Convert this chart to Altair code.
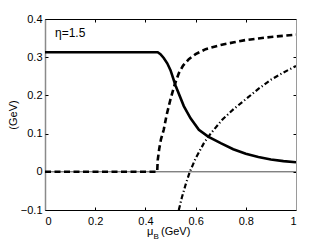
import altair as alt
import pandas as pd

# ---- data ----
x_ticks = [0, 0.2, 0.4, 0.6, 0.8, 1.0]
y_ticks = [-0.1, 0, 0.1, 0.2, 0.3, 0.4]

solid_mu = [0.0, 0.449, 0.460, 0.473, 0.487, 0.500, 0.520, 0.553, 0.580, 0.613,
            0.650, 0.700, 0.750, 0.800, 0.850, 0.900, 0.950, 1.000]
solid_val = [0.313, 0.313, 0.308, 0.298, 0.284, 0.266, 0.226, 0.172, 0.140, 0.110,
             0.092, 0.075, 0.059, 0.047, 0.039, 0.032, 0.028, 0.025]

dashed_mu = [0.0, 0.447, 0.449, 0.455, 0.462, 0.473, 0.485, 0.500, 0.515, 0.533,
             0.550, 0.573, 0.600, 0.640, 0.700, 0.753, 0.800, 0.850, 0.900, 0.950, 1.000]
dashed_val = [0.0, 0.0, 0.030, 0.060, 0.085, 0.110, 0.150, 0.190, 0.225, 0.258,
              0.278, 0.295, 0.308, 0.321, 0.332, 0.339, 0.345, 0.349, 0.353, 0.356, 0.359]

dashdot_mu = [0.533, 0.545, 0.560, 0.577, 0.600, 0.633, 0.660, 0.707, 0.753,
              0.800, 0.850, 0.900, 0.950, 1.000]
dashdot_val = [-0.100, -0.068, -0.034, 0.0, 0.035, 0.075, 0.100, 0.137, 0.165,
               0.190, 0.217, 0.241, 0.260, 0.277]

zero_line = [0.0]

eta_label = "η=1.5"
y_title = "(GeV)"
x_title_main = "μ"
x_title_sub = "B"
x_title_unit = "(GeV)"

FONT = "Liberation Sans"

xs = alt.Scale(domain=[0, 1], nice=False, zero=False)
ys = alt.Scale(domain=[-0.1, 0.4], nice=False, zero=False)


def frame(mu, val):
    return pd.DataFrame({"mu": mu, "val": val})


solid_df = frame(solid_mu, solid_val)
dashed_df = frame(dashed_mu, dashed_val)
dashdot_df = frame(dashdot_mu, dashdot_val)

main_x_axis = alt.Axis(orient="bottom", values=x_ticks, format=".1~f", ticks=False,
                       domain=True, domainColor="black", domainWidth=1,
                       labelFont=FONT, labelFontSize=11, labelColor="black",
                       labelPadding=5, grid=False, title=None)
main_y_axis = alt.Axis(orient="left", values=y_ticks, format=".1~f", ticks=False,
                       domain=True, domainColor="#8a8a8a", domainWidth=1.5,
                       labelFont=FONT, labelFontSize=11, labelColor="black",
                       labelPadding=3, grid=False, title=None)


def tick_axis(orient, values):
    return alt.Axis(orient=orient, values=values, offset=-3, tickSize=3, ticks=True,
                    tickColor="black", tickWidth=1, labels=False, domain=False,
                    grid=False, title=None)


def domain_axis(orient, color):
    return alt.Axis(orient=orient, ticks=False, labels=False, domain=True,
                    domainColor=color, domainWidth=1, grid=False, title=None)


zero_rule = alt.Chart(pd.DataFrame({"val": zero_line})).mark_rule(
    color="black", strokeWidth=0.7
).encode(y=alt.Y("val:Q", scale=ys, axis=None))

solid = alt.Chart(solid_df).mark_line(color="black", strokeWidth=2.6, clip=True).encode(
    x=alt.X("mu:Q", scale=xs, axis=main_x_axis),
    y=alt.Y("val:Q", scale=ys, axis=main_y_axis),
)

dashed = alt.Chart(dashed_df).mark_line(
    color="black", strokeWidth=2.6, strokeDash=[6, 3.5], clip=True
).encode(
    x=alt.X("mu:Q", scale=xs, axis=None),
    y=alt.Y("val:Q", scale=ys, axis=None),
)

dashdot = alt.Chart(dashdot_df).mark_line(
    color="black", strokeWidth=2.2, strokeDash=[5, 2.5, 1.2, 2.5], clip=True
).encode(
    x=alt.X("mu:Q", scale=xs, axis=None),
    y=alt.Y("val:Q", scale=ys, axis=None),
)

ticks_bl = alt.Chart(solid_df).mark_point(opacity=0).encode(
    x=alt.X("mu:Q", scale=xs, axis=tick_axis("bottom", x_ticks)),
    y=alt.Y("val:Q", scale=ys, axis=tick_axis("left", y_ticks)),
)
ticks_tr = alt.Chart(solid_df).mark_point(opacity=0).encode(
    x=alt.X("mu:Q", scale=xs, axis=tick_axis("top", x_ticks)),
    y=alt.Y("val:Q", scale=ys, axis=tick_axis("right", y_ticks)),
)
frame_tr = alt.Chart(solid_df).mark_point(opacity=0).encode(
    x=alt.X("mu:Q", scale=xs, axis=domain_axis("top", "black")),
    y=alt.Y("val:Q", scale=ys, axis=domain_axis("right", "#9a9a9a")),
)


def label(text, x, y, size=11, angle=0, align="left", baseline="alphabetic"):
    return alt.Chart(pd.DataFrame({"t": [text]})).mark_text(
        font=FONT, fontSize=size, color="black", angle=angle, align=align,
        baseline=baseline
    ).encode(x=alt.value(x), y=alt.value(y), text="t:N")


eta = label(eta_label, 10, 18, size=12)
ytitle = label(y_title, -31, 96, angle=270, align="center", baseline="middle")
xt1 = label(x_title_main, 102, 216)
xt2 = label(x_title_sub, 108.5, 220, size=8)
xt3 = label(x_title_unit, 116, 216)

chart = alt.layer(
    zero_rule, solid, dashed, dashdot, ticks_bl, ticks_tr, frame_tr,
    eta, ytitle, xt1, xt2, xt3
).resolve_axis(
    x="independent", y="independent"
).properties(
    width=251, height=191,
    autosize=alt.AutoSizeParams(type="none"),
    padding={"left": 37, "top": 11, "right": 20, "bottom": 36},
).configure_view(stroke=None)

chart.save("out.html", embed_options={"renderer": "svg", "actions": False})
